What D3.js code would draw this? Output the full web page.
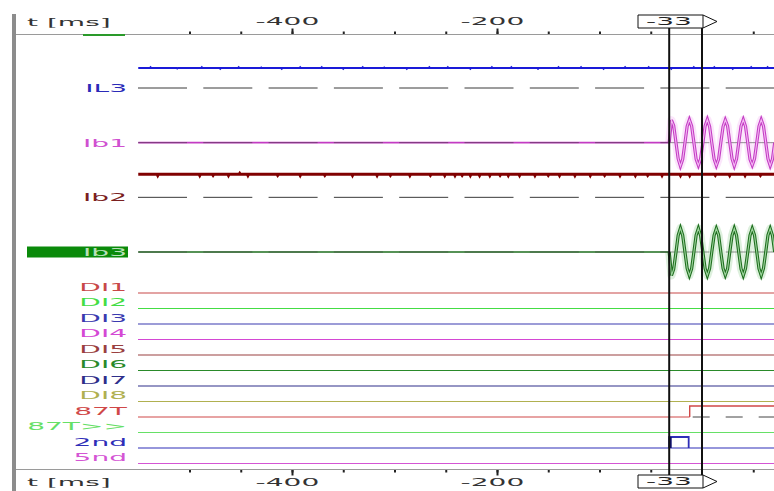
<!DOCTYPE html>
<html>
<head>
<meta charset="utf-8">
<script src="https://cdn.jsdelivr.net/npm/d3@7"></script>
<style>
  body { margin: 0; background: #fff; overflow: hidden; }
  svg { display: block; }
  text { font-family: "DejaVu Sans", sans-serif; font-size: 11px; }
</style>
</head>
<body>
<svg id="chart"></svg>
<script>
// ---- time axis ----
const tStart = -550, tEnd = 72;
const minorTicks = [-500, -450, -400, -350, -300, -250, -200, -150, -100, -50, 0, 50];
const majorTicks = [-400, -200];
const cursorTimes = [-32, 0];
const cursorLabel = "-33";

// ---- analog channels ----
const analogNames = ["IL3", "Ib1", "Ib2", "Ib3"];
const analogColors = ["#1a1ad8", "#c33cc3", "#800000", "#1e6e1e"];
const labelColors = ["#2a2ab8", "#d050d0", "#7a2020", "#b8e0b8"];

// IL3: offset level plus small noise bumps [t, delta]
const il3Level = 0.87;
const il3Noise = [[-538, 0.03], [-512, -0.02], [-488, 0.03], [-470, -0.03], [-452, 0.03], [-430, 0.02],
  [-410, -0.03], [-392, 0.03], [-371, 0.03], [-350, -0.03], [-331, 0.03], [-310, 0.02], [-288, -0.03],
  [-266, 0.03], [-248, 0.03], [-226, -0.03], [-205, 0.03], [-186, 0.03], [-160, -0.03], [-140, 0.03],
  [-118, 0.03], [-96, -0.03], [-75, 0.03], [-52, 0.03], [-30, -0.03], [-8, 0.03], [12, 0.03],
  [30, -0.03], [48, 0.03], [64, 0.03]];

// Ib2: offset level plus noise dots
const ib2Level = 1.0;
const ib2Noise = [[-531, -0.05], [-490, -0.05], [-477, -0.04], [-462, -0.05], [-451, 0.04], [-443, -0.05],
  [-414, -0.04], [-392, -0.05], [-368, -0.04], [-341, -0.05], [-317, -0.05], [-304, -0.04],
  [-285, -0.05], [-265, -0.04], [-251, -0.05], [-241, -0.05], [-234, -0.04], [-226, -0.05],
  [-217, -0.05], [-207, -0.05], [-197, -0.04], [-189, -0.05], [-178, -0.05], [-163, -0.05],
  [-150, -0.04], [-139, -0.05], [-124, -0.05], [-109, -0.05], [-95, -0.04], [-80, -0.05],
  [-65, -0.05], [-53, -0.04], [-39, -0.05], [-21, -0.05], [-12, -0.05], [13, -0.04], [27, -0.05],
  [42, -0.05], [57, -0.04]];

// Ib1 / Ib3 samples after the fault (one every sampleStep ms from the first cursor)
const sampleStep = 2.19;
const ib1Samples = [0, 0.98, 0.74, 0.02, -0.70, -1.02, -0.73, -0.02, 0.71, 1.0, 0.72, 0.01, -0.72, -0.99,
  -0.70, 0.0, 0.73, 1.01, 0.70, -0.02, -0.71, -1.0, -0.72, 0.01, 0.70, 0.99, 0.73, 0.0, -0.70, -1.01,
  -0.71, 0.02, 0.72, 1.0, 0.71, -0.01, -0.73, -0.98, -0.70, 0.0, 0.71, 1.0, 0.72, 0.01, -0.70, -1.0,
  -0.72, 0.0];
const ib3Samples = [0, -1.02, -0.74, -0.02, 0.72, 1.04, 0.73, 0.01, -0.71, -1.02, -0.72, 0.0, 0.73, 1.03,
  0.71, -0.01, -0.72, -1.02, -0.71, 0.02, 0.72, 1.02, 0.74, 0.0, -0.71, -1.01, -0.73, 0.01, 0.72, 1.03,
  0.72, -0.02, -0.73, -1.02, -0.71, 0.0, 0.72, 1.02, 0.73, 0.01, -0.72, -1.02, -0.71, 0.0, 0.73, 1.02,
  0.72, 0.0];

// ---- digital channels ----
const digitalNames = ["DI1", "DI2", "DI3", "DI4", "DI5", "DI6", "DI7", "DI8", "87T", "87T>>", "2nd", "5nd"];
const digitalColors = ["#c84848", "#44dd44", "#3a3ab0", "#d448d4", "#9a4040", "#2a8a2a", "#2e2e8a",
  "#b0b050", "#d04848", "#66e066", "#2e2eb8", "#d455d4"];
// high periods [from, to] (to = null means still high at the end)
const digitalHigh = [[], [], [], [], [], [], [], [], [[-12, null]], [], [[-32, -13]], []];

// ---- layout ----
const W = 774, H = 491;
const axisTopY = 34.5, axisBottomY = 469.5;
const plotLeft = 138;
const SX = 2.55;

const svg = d3.select("#chart").attr("width", W).attr("height", H);

const x = d3.scaleLinear().domain([-400, 0]).range([292, 702]);
const analogY = d3.scalePoint().domain(analogNames).range([88, 252]);
const digitalY = d3.scalePoint().domain(digitalNames).range([293, 463.5]);
const amp = d3.scaleLinear().domain([-1, 1]).range([23, -23]);

svg.append("defs").append("clipPath").attr("id", "plot")
    .append("rect").attr("x", plotLeft).attr("y", 0).attr("width", W - plotLeft).attr("height", H);

function stretchText(g, txt, px, py, anchor, color) {
    return g.append("text")
        .attr("transform", `translate(${px},${py}) scale(${SX},1)`)
        .attr("text-anchor", anchor)
        .attr("dy", "0.35em")
        .attr("fill", color)
        .text(txt);
}

// left border
svg.append("rect").attr("x", 12).attr("y", 14).attr("width", 4).attr("height", H - 14).attr("fill", "#8c8c8c");

// axes
svg.append("line").attr("x1", 16).attr("x2", W).attr("y1", axisTopY).attr("y2", axisTopY)
    .attr("stroke", "#9a9a9a").attr("stroke-width", 1.2);
svg.append("line").attr("x1", 16).attr("x2", W).attr("y1", axisBottomY).attr("y2", axisBottomY)
    .attr("stroke", "#9a9a9a").attr("stroke-width", 1.2);

const topMinor = svg.append("g").attr("transform", `translate(0,${axisTopY - 0.5})`)
    .call(d3.axisTop(x).tickValues(minorTicks).tickSize(2.5).tickFormat(""));
const topMajor = svg.append("g").attr("transform", `translate(0,${axisTopY - 0.5})`)
    .call(d3.axisTop(x).tickValues(majorTicks).tickSize(5.5).tickFormat(d => String(d)));
const botMinor = svg.append("g").attr("transform", `translate(0,${axisBottomY + 0.5})`)
    .call(d3.axisBottom(x).tickValues(minorTicks).tickSize(2.5).tickFormat(""));
const botMajor = svg.append("g").attr("transform", `translate(0,${axisBottomY + 0.5})`)
    .call(d3.axisBottom(x).tickValues(majorTicks).tickSize(5.5).tickFormat(d => String(d)));

[topMinor, topMajor, botMinor, botMajor].forEach(a => {
    a.select(".domain").remove();
    a.selectAll(".tick line").attr("stroke", "#222").attr("stroke-width", 2);
});
topMajor.selectAll(".tick text").attr("y", -12.5).attr("dy", "0.35em").attr("x", -2)
    .attr("transform", `scale(${SX},1)`).attr("fill", "#333").attr("font-size", 11)
    .attr("font-family", "DejaVu Sans");
botMajor.selectAll(".tick text").attr("y", 12.5).attr("dy", "0.35em").attr("x", -2)
    .attr("transform", `scale(${SX},1)`).attr("fill", "#333").attr("font-size", 11)
    .attr("font-family", "DejaVu Sans");
// hide tick that is covered by the cursor
topMinor.selectAll(".tick").filter(d => d === 0).remove();
botMinor.selectAll(".tick").filter(d => d === 0).remove();

stretchText(svg, "t [ms]", 27, 22, "start", "#333");
stretchText(svg, "t [ms]", 27, 482, "start", "#333");

// green fragment of a channel above
svg.append("line").attr("x1", 83).attr("x2", 125).attr("y1", axisTopY + 0.5).attr("y2", axisTopY + 0.5)
    .attr("stroke", "#2a9a2a").attr("stroke-width", 2);

const plot = svg.append("g").attr("clip-path", "url(#plot)");

// ---- analog channels ----
function noisySeries(level, noise) {
    const pts = [[tStart, level]];
    noise.forEach(([t, d]) => {
        pts.push([t - 0.6, level], [t, level + d], [t + 0.6, level]);
    });
    pts.push([tEnd, level]);
    return pts;
}
function faultSeries(samples) {
    const pts = [[tStart, 0]];
    samples.forEach((v, i) => pts.push([cursorTimes[0] + i * sampleStep, v]));
    return pts;
}

const series = {
    IL3: noisySeries(il3Level, il3Noise),
    Ib1: faultSeries(ib1Samples),
    Ib2: noisySeries(ib2Level, ib2Noise),
    Ib3: faultSeries(ib3Samples)
};
const traceWidth = { IL3: 2, Ib1: 1.4, Ib2: 3, Ib3: 1.4 };
const waveLight = { Ib1: "#f4b8f4", Ib3: "#9ed49e" };

// selected label background
svg.append("rect").attr("x", 27).attr("y", analogY("Ib3") - 5.5).attr("width", 101).attr("height", 11)
    .attr("fill", "#0a8a0a");

analogNames.forEach((name, i) => {
    const base = analogY(name);
    const line = d3.line().x(d => x(d[0])).y(d => base + amp(d[1]));

    if (name === "Ib1" || name === "Ib3") {
        const wave = series[name].filter(d => d[0] >= cursorTimes[0]);
        // soft halo around the waveform
        plot.append("path").datum(wave).attr("d", line).attr("fill", "none")
            .attr("stroke", waveLight[name]).attr("stroke-opacity", 0.35).attr("stroke-width", 8)
            .attr("stroke-linejoin", "round");
        plot.append("path").datum(series[name].filter(d => d[0] <= cursorTimes[0]))
            .attr("d", line).attr("fill", "none")
            .attr("stroke", analogColors[i]).attr("stroke-width", 1.6);
    }

    // dashed zero line
    plot.append("line")
        .attr("x1", plotLeft).attr("x2", W).attr("y1", base).attr("y2", base)
        .attr("stroke", "#3a3a3a").attr("stroke-opacity", name === "Ib1" || name === "Ib3" ? 0.55 : 1)
        .attr("stroke-width", 1).attr("stroke-dasharray", "49,16.3");

    if (name === "Ib1" || name === "Ib3") {
        const wave = series[name].filter(d => d[0] >= cursorTimes[0]);
        // outlined trace: dark edge with lighter core
        plot.append("path").datum(wave).attr("d", line).attr("fill", "none")
            .attr("stroke", analogColors[i]).attr("stroke-width", 3.2).attr("stroke-linejoin", "miter");
        plot.append("path").datum(wave).attr("d", line).attr("fill", "none")
            .attr("stroke", waveLight[name]).attr("stroke-width", 1.1);
    } else {
        plot.append("path").datum(series[name]).attr("d", line).attr("fill", "none")
            .attr("stroke", analogColors[i]).attr("stroke-width", traceWidth[name]);
    }
    stretchText(svg, name, 127, base, "end", labelColors[i]);
});

// ---- digital channels ----
const highStep = 11;
digitalNames.forEach((name, i) => {
    const base = digitalY(name);
    const col = digitalColors[i];
    const periods = digitalHigh[i];
    const open = periods.find(p => p[1] === null);
    const lowEnd = open ? x(open[0]) : W;

    plot.append("line").attr("x1", plotLeft).attr("x2", lowEnd).attr("y1", base).attr("y2", base)
        .attr("stroke", col).attr("stroke-width", 1.2);

    periods.forEach(([a, b]) => {
        const xa = x(a);
        if (b === null) {
            plot.append("path")
                .attr("d", d3.line()([[xa, base], [xa, base - highStep], [W, base - highStep]]))
                .attr("fill", "none").attr("stroke", col).attr("stroke-width", 1.4);
            plot.append("line").attr("x1", xa + 3).attr("x2", W).attr("y1", base).attr("y2", base)
                .attr("stroke", "#444").attr("stroke-width", 1).attr("stroke-dasharray", "17,16");
        } else {
            const xb = x(b);
            plot.append("path")
                .attr("d", d3.line()([[xa, base], [xa, base - highStep], [xb, base - highStep], [xb, base]]))
                .attr("fill", "none").attr("stroke", col).attr("stroke-width", 1.8);
            plot.append("line").attr("x1", xa + 1).attr("x2", xa + 1).attr("y1", base - highStep).attr("y2", base)
                .attr("stroke", "#101070").attr("stroke-width", 3);
        }
    });
    stretchText(svg, name, 127, base - 6, "end", col);
});

// ---- cursors ----
cursorTimes.forEach(t => {
    svg.append("line").attr("x1", x(t)).attr("x2", x(t)).attr("y1", 28).attr("y2", 476)
        .attr("stroke", "#111").attr("stroke-width", 2);
});

function cursorBox(yTop) {
    const x0 = 638, x1 = x(cursorTimes[1]) + 1, h = 13;
    svg.append("path")
        .attr("d", d3.line()([[x0, yTop], [x1, yTop], [x1 + 14, yTop + h / 2], [x1, yTop + h], [x0, yTop + h], [x0, yTop]]))
        .attr("fill", "#fff").attr("stroke", "#111").attr("stroke-width", 1);
    svg.append("line").attr("x1", x1).attr("x2", x1).attr("y1", yTop).attr("y2", yTop + h)
        .attr("stroke", "#111").attr("stroke-width", 1);
    stretchText(svg, cursorLabel, 669, yTop + h / 2, "middle", "#222");
}
cursorBox(15);
cursorBox(475);
</script>
</body>
</html>
